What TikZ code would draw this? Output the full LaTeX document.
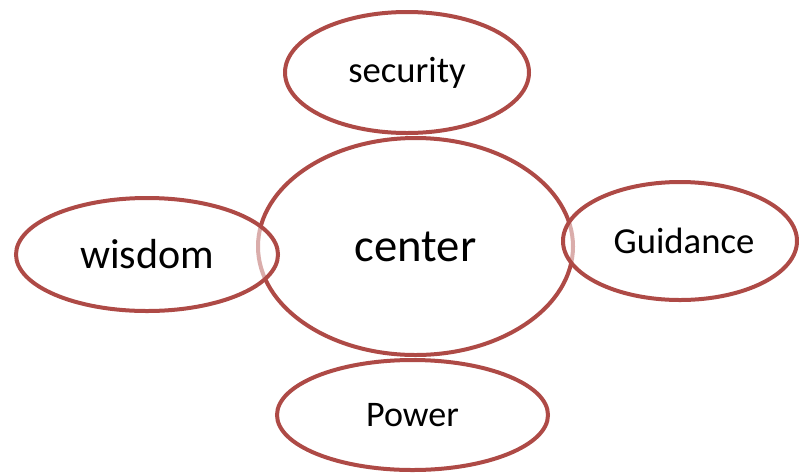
\documentclass[tikz,border=0pt]{standalone}
\usepackage{fontspec}
\setmainfont{Carlito}
\usetikzlibrary{shapes.geometric}
\definecolor{ringred}{RGB}{174,74,70}

\begin{document}
\begin{tikzpicture}[x=0.75pt,y=-0.75pt,
  ring/.style={draw=ringred,line width=3pt,ellipse,inner sep=0pt,fill=white},
  seethrough/.style={fill opacity=0.55,draw opacity=1,text opacity=1}]
  \useasboundingbox (0,0) rectangle (799,472);
  % middle one first, the side ones lie on top of it
  \node[ring,minimum width=236.25pt,minimum height=162.75pt,font=\fontsize{35}{40}\selectfont] (cen) at (415.5,246.5) {center};
  \node[ring,minimum width=183pt,minimum height=90.75pt,font=\fontsize{27.5}{32}\selectfont] (sec) at (407,72.5) {security};
  \node[ring,minimum width=203.25pt,minimum height=82.5pt,font=\fontsize{27}{32}\selectfont] (pow) at (412.5,415) {Power};
  \node[ring,seethrough,minimum width=196.5pt,minimum height=84.75pt,font=\fontsize{31.5}{36}\selectfont] (wis) at (147,254.5) {wisdom};
  \node[ring,seethrough,minimum width=175.5pt,minimum height=88.5pt,font=\fontsize{27.5}{32}\selectfont] (gui) at (680,241) {\hspace*{6pt}Guidance};
\end{tikzpicture}
\end{document}
